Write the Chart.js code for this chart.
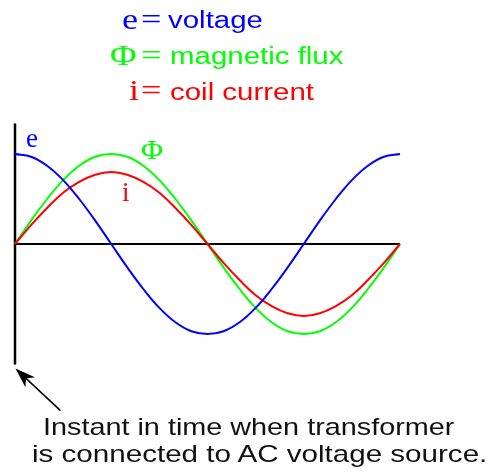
<!DOCTYPE html>
<html>
<head>
<meta charset="utf-8">
<script src="https://cdn.jsdelivr.net/npm/chart.js@4.4.0/dist/chart.umd.min.js"></script>
<style>
  html, body { margin: 0; padding: 0; background: #fff; }
  #wrap { position: relative; width: 492px; height: 476px; overflow: hidden; }
  #wrap canvas { position: absolute; left: 0; top: 0; }
  .t { position: absolute; white-space: nowrap; line-height: 1; transform-origin: 0 0;
       font-family: 'Liberation Sans', Arial, sans-serif; }
  .s { position: absolute; white-space: nowrap; line-height: 1; transform-origin: 0 0;
       font-family: 'Liberation Serif', 'Times New Roman', serif; }
  .key { font-size: 29px; transform: scaleX(1.25); }
  .word { font-size: 23px; transform: scaleX(1.28); }
  .blue { color: #0000ff; }
  .green { color: #00ff00; }
  .red { color: #ff0000; }
</style>
</head>
<body>
<div id="wrap">
  <canvas id="chart" width="492" height="476"></canvas>

  <!-- key -->
  <div class="s key blue"  style="left:122px; top:5px;">e</div>
  <div class="s key blue"  style="left:141px; top:5px;">=</div>
  <div class="t word blue" style="left:168px; top:9px;">voltage</div>

  <div class="s key green"  style="left:110px; top:41px;">&Phi;</div>
  <div class="s key green"  style="left:141px; top:41px;">=</div>
  <div class="t word green" style="left:170px; top:45px;">magnetic flux</div>

  <div class="s key red"   style="left:129px; top:76px;">i</div>
  <div class="s key red"   style="left:141px; top:76px;">=</div>
  <div class="t word red"  style="left:170px; top:81px;">coil current</div>

  <!-- curve labels -->
  <div class="s blue"  style="left:26px;  top:125px; font-size:27px;">e</div>
  <div class="s green" style="left:141px; top:137px; font-size:27px; transform:scaleX(1.12);">&Phi;</div>
  <div class="s red"   style="left:122px; top:179px; font-size:27px;">i</div>

  <!-- note under the chart -->
  <div class="t" style="left:43px; top:415px; font-size:24px; color:#111; transform:scaleX(1.2);">Instant in time when transformer</div>
  <div class="t" style="left:32px; top:442px; font-size:24px; color:#111; transform:scaleX(1.232);">is connected to AC voltage source.</div>
</div>

<script>
// phase angle in degrees, one full cycle
const angles = [0, 15, 30, 45, 60, 75, 90, 105, 120, 135, 150, 165, 180,
                195, 210, 225, 240, 255, 270, 285, 300, 315, 330, 345, 360];

// e: source voltage, starts at its positive peak
const voltage = [1, 0.97, 0.87, 0.71, 0.5, 0.26, 0, -0.26, -0.5, -0.71, -0.87, -0.97, -1,
                 -0.97, -0.87, -0.71, -0.5, -0.26, 0, 0.26, 0.5, 0.71, 0.87, 0.97, 1];

// Φ: core flux, lags the voltage by 90 degrees
const flux = [0, 0.26, 0.5, 0.71, 0.87, 0.97, 1, 0.97, 0.87, 0.71, 0.5, 0.26, 0,
              -0.26, -0.5, -0.71, -0.87, -0.97, -1, -0.97, -0.87, -0.71, -0.5, -0.26, 0];

// i: magnetizing current, in phase with the flux
const current = [0, 0.21, 0.4, 0.57, 0.69, 0.77, 0.8, 0.77, 0.69, 0.57, 0.4, 0.21, 0,
                 -0.21, -0.4, -0.57, -0.69, -0.77, -0.8, -0.77, -0.69, -0.57, -0.4, -0.21, 0];

const toPoints = vals => vals.map((v, k) => ({ x: angles[k], y: v }));

// vertical "switch-on" line, zero line and the pointer arrow
const axesAndArrow = {
  id: 'axesAndArrow',
  beforeDatasetsDraw(chart) {
    const { ctx, chartArea, scales: { x, y } } = chart;
    const x0 = x.getPixelForValue(0);
    const y0 = y.getPixelForValue(0);
    ctx.save();
    ctx.strokeStyle = '#000';
    ctx.lineWidth = 2.5;
    ctx.beginPath();
    ctx.moveTo(x0, chartArea.top);
    ctx.lineTo(x0, chartArea.bottom);
    ctx.stroke();
    ctx.lineWidth = 2;
    ctx.beginPath();
    ctx.moveTo(x0, y0);
    ctx.lineTo(x.getPixelForValue(360), y0);
    ctx.stroke();
    ctx.restore();
  },
  afterDraw(chart) {
    const { ctx, chartArea, scales: { x } } = chart;
    const tipX = x.getPixelForValue(0) + 0.5;
    const tipY = chartArea.bottom + 4;
    const tailX = tipX + 45;
    const tailY = tipY + 42;
    const ang = Math.atan2(tailY - tipY, tailX - tipX);
    const cos = Math.cos(ang), sin = Math.sin(ang);
    const len = 20, half = 7;
    ctx.save();
    ctx.strokeStyle = '#000';
    ctx.fillStyle = '#000';
    ctx.lineWidth = 1.5;
    ctx.beginPath();
    ctx.moveTo(tailX, tailY);
    ctx.lineTo(tipX + cos * len * 0.7, tipY + sin * len * 0.7);
    ctx.stroke();
    const bx = tipX + cos * len;
    const by = tipY + sin * len;
    ctx.beginPath();
    ctx.moveTo(tipX, tipY);
    ctx.lineTo(bx - sin * half, by + cos * half);
    ctx.lineTo(tipX + cos * len * 0.72, tipY + sin * len * 0.72);
    ctx.lineTo(bx + sin * half, by - cos * half);
    ctx.closePath();
    ctx.fill();
    ctx.restore();
  }
};

const line = (label, vals, color) => ({
  label,
  data: toPoints(vals),
  borderColor: color,
  borderWidth: 2,
  pointRadius: 0,
  fill: false,
  tension: 0.4,
  clip: false
});

new Chart(document.getElementById('chart'), {
  type: 'line',
  data: {
    datasets: [
      line('e', voltage, '#0000ff'),
      line('i', current, '#ff0000'),
      line('Φ', flux, '#00ff00')
    ]
  },
  options: {
    responsive: false,
    animation: false,
    layout: { padding: { left: 15, right: 92, top: 123.4, bottom: 111.4 } },
    scales: {
      x: { type: 'linear', min: 0, max: 360, display: false },
      y: { min: -1.34, max: 1.34, display: false }
    },
    plugins: {
      legend: { display: false },
      tooltip: { enabled: false }
    }
  },
  plugins: [axesAndArrow]
});
</script>
</body>
</html>
